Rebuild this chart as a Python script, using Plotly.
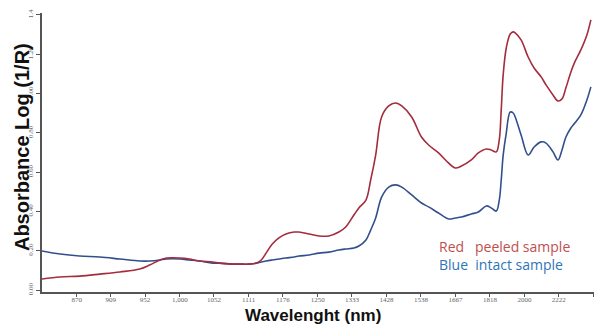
import plotly.graph_objects as go

# Wavelength grid (nm)
wavelength_nm = [833, 852, 873, 896, 920, 945, 958, 972, 981, 1000,
                 1014, 1029, 1050, 1061, 1082, 1094, 1112, 1125, 1134, 1143,
                 1155, 1168, 1182, 1199, 1209, 1231, 1253, 1276, 1300, 1317,
                 1338, 1351, 1370, 1383, 1397, 1414, 1435, 1456, 1475, 1507,
                 1540, 1565, 1601, 1639, 1666, 1691, 1733, 1764, 1801, 1824,
                 1849, 1864, 1874, 1884, 1900, 1921, 1937, 1948, 1981, 2022,
                 2058, 2102, 2134, 2181, 2216, 2245, 2274, 2312, 2343, 2392,
                 2443, 2478]

# Red: peeled sample
peeled = [0.056, 0.066, 0.071, 0.081, 0.092, 0.107, 0.127, 0.153, 0.163, 0.163,
          0.158, 0.148, 0.143, 0.137, 0.132, 0.132, 0.132, 0.137, 0.153, 0.188,
          0.234, 0.265, 0.285, 0.295, 0.295, 0.285, 0.275, 0.275, 0.295, 0.321,
          0.382, 0.418, 0.458, 0.560, 0.687, 0.881, 0.937, 0.952, 0.937, 0.881,
          0.779, 0.738, 0.698, 0.647, 0.621, 0.631, 0.662, 0.698, 0.718, 0.713,
          0.703, 0.764, 0.917, 1.095, 1.232, 1.303, 1.314, 1.309, 1.273, 1.186,
          1.130, 1.085, 1.044, 0.993, 0.962, 0.973, 1.029, 1.110, 1.161, 1.222,
          1.298, 1.375]

# Blue: intact sample
intact = [0.199, 0.183, 0.173, 0.168, 0.158, 0.148, 0.148, 0.153, 0.158, 0.158,
          0.153, 0.148, 0.137, 0.137, 0.132, 0.132, 0.132, 0.137, 0.143, 0.148,
          0.153, 0.158, 0.163, 0.168, 0.173, 0.178, 0.188, 0.193, 0.204, 0.209,
          0.214, 0.224, 0.255, 0.305, 0.367, 0.473, 0.524, 0.535, 0.524, 0.484,
          0.443, 0.423, 0.392, 0.362, 0.367, 0.372, 0.387, 0.397, 0.428, 0.418,
          0.402, 0.458, 0.560, 0.687, 0.799, 0.906, 0.901, 0.881, 0.789, 0.687,
          0.728, 0.754, 0.748, 0.703, 0.662, 0.713, 0.779, 0.825, 0.850, 0.891,
          0.967, 1.034]

# Axis ticks (x axis is linear in wavenumber, labelled in nm)
x_tick_nm = [870, 909, 952, 1000, 1052, 1111, 1176, 1250, 1333, 1428,
             1538, 1667, 1818, 2000, 2222, 2500]
x_tick_text = ["870", "909", "952", "1,000", "1052", "1111", "1176", "1250", "1333", "1428",
               "1538", "1667", "1818", "2000", "2222", "2500"]
y_tick_vals = [0.0, 0.2, 0.4, 0.6, 0.8, 1.0, 1.2, 1.4]
y_tick_text = ["0.00", "0.20", "0.40", "0.60", "0.80", "1.00", "1.20", "1.4"]

wn = [1e7 / w for w in wavelength_nm]
tick_wn = [1e7 / w for w in x_tick_nm]

fig = go.Figure()
fig.add_trace(go.Scatter(x=wn, y=intact, mode="lines", name="Blue intact sample",
                         line=dict(color="#324f8c", width=1.6), line_shape="spline"))
fig.add_trace(go.Scatter(x=wn, y=peeled, mode="lines", name="Red peeled sample",
                         line=dict(color="#a32d3e", width=1.6), line_shape="spline"))

legend_text = ("<span style='color:#c0504d'>Red   peeled sample</span><br>"
               "<span style='color:#2e75b6'>Blue  intact sample</span>")

fig.update_layout(
    width=594, height=327,
    margin=dict(l=42, r=0, t=13, b=35),
    paper_bgcolor="white", plot_bgcolor="white",
    showlegend=False,
    xaxis=dict(range=[12000, 3990], tickvals=tick_wn, ticktext=x_tick_text,
               showgrid=False, zeroline=False, showline=True, linecolor="#555",
               linewidth=1.5, ticks="outside", ticklen=3, tickcolor="#555",
               ticklabelstandoff=-3,
               tickfont=dict(family="Liberation Serif", size=7, color="#666")),
    yaxis=dict(range=[-0.01, 1.41], tickvals=y_tick_vals, ticktext=y_tick_text,
               showgrid=False, zeroline=False, showline=True, linecolor="#555",
               linewidth=1.5, ticks="outside", ticklen=4, tickcolor="#555",
               tickangle=-90,
               tickfont=dict(family="Liberation Serif", size=7, color="#666")),
    annotations=[
        dict(text="<b>Wavelenght (nm)</b>", xref="paper", yref="paper",
             x=0.491, y=-0.086, xanchor="center", yanchor="middle", showarrow=False,
             font=dict(family="Liberation Sans", size=17, color="#111")),
        dict(text="<b>Absorbance Log (1/R)</b>", xref="paper", yref="paper",
             x=-0.036, y=0.52, xanchor="center", yanchor="middle", showarrow=False,
             textangle=-90,
             font=dict(family="Liberation Sans", size=20, color="#111")),
        dict(text=legend_text, xref="paper", yref="paper", align="left",
             x=0.7156, y=0.131, xanchor="left", yanchor="middle", showarrow=False,
             font=dict(family="Open Sans", size=14, color="#c0504d")),
    ],
)

fig.write_html("out.html", config={"displayModeBar": False},
               post_script="document.body.style.margin='0';document.body.style.padding='0';")
